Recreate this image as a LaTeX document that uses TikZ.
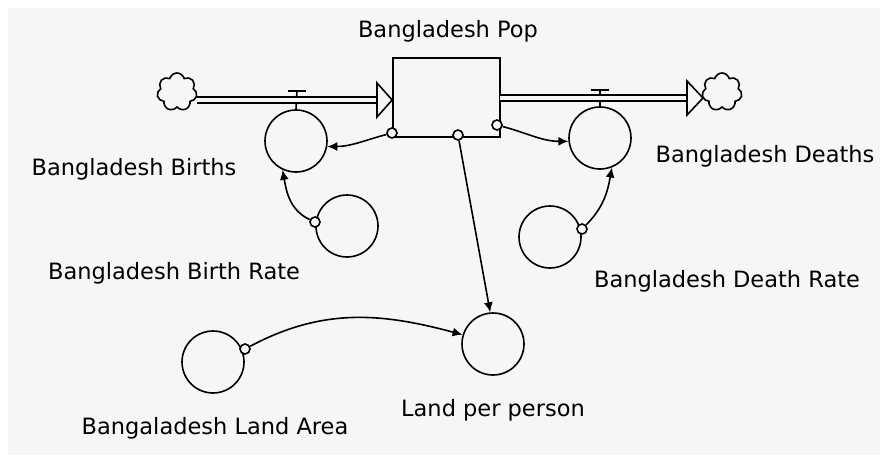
\documentclass[tikz,border=0pt]{standalone}
\usepackage{fontspec}
\setmainfont{DejaVu Sans}
\usetikzlibrary{arrows.meta,shapes.symbols}
\definecolor{bgc}{RGB}{246,246,246}
\begin{document}
\begin{tikzpicture}[x=1pt,y=-1pt,line width=1.6pt,font=\fontsize{22.5}{26}\selectfont]
\tikzstyle{aux}=[draw,shape=circle,minimum size=62pt,inner sep=0pt]
\tikzstyle{src}=[draw,shape=circle,minimum size=10pt,inner sep=0pt,fill=bgc]
\tikzstyle{sink}=[draw,cloud,cloud puffs=7,aspect=1,minimum width=40pt,minimum height=38pt,inner sep=0pt]
\tikzstyle{link}=[-{Latex[length=10pt,width=9pt]}]
\tikzstyle{pipe}=[double=bgc,double distance=4.5pt,line width=1.6pt]
\fill[white] (0,0) rectangle (884,460);
\fill[bgc] (8,8) rectangle (880,455);
\useasboundingbox (0,0) rectangle (884,460);

\path (446.5,97.5) node[draw,minimum width=107pt,minimum height=79pt,inner sep=0pt](pop){};
\path (448,31) node(lpop){Bangladesh Pop};
\path (177,92) node[sink](c1){} (722,92) node[sink](c2){};
\path (296,141) node[aux](b1){} (347,226) node[aux](br){};
\path (600,138) node[aux](d1){} (550,237) node[aux](dr){};
\path (493,344) node[aux](lp){} (213,362) node[aux](la){};

\draw[] (288,91) -- (306,91);
\draw[] (297,91) -- (b1.north);
\draw[] (591,90) -- (609,90);
\draw[] (600,90) -- (d1.north);

\coordinate (p1) at (197,100);
\coordinate (t1) at (377,100);
\draw[pipe] (p1) -- (t1);
\draw[fill=bgc] (377,83) -- (pop.west |- t1) -- (377,117) -- cycle;
\coordinate (p2) at (500,98);
\coordinate (t2) at (687,98);
\draw[pipe] (p2) -- (t2);
\draw[fill=bgc] (687,81) -- (703,98) -- (687,115) -- cycle;

\path (392,133) node[src](o1){} (458,135) node[src](o5){} (497,125) node[src](o3){};
\path (315,222) node[src](o2){} (582,229) node[src](o4){} (245,349) node[src](o6){};

\draw[link] (o1) to[out=195,in=0] (b1.-10);
\draw[link] (o2) to[out=155,in=-80] (b1.-115);
\draw[link] (o3) to[out=-15,in=180] (d1.186);
\draw[link] (o4) to[out=45,in=-100] (d1.-68);
\draw[link] (o5) -- (lp.95);
\draw[link] (o6) to[out=28,in=165] (lp.163);

\path (134,169) node(lb1){Bangladesh Births};
\path (174,273) node(lbr){Bangladesh Birth Rate};
\path (765,156) node(ld1){Bangladesh Deaths};
\path (727,281) node(ldr){Bangladesh Death Rate};
\path (493,410) node(llp){Land per person};
\path (215,428) node(lla){Bangaladesh Land Area};
\end{tikzpicture}
\end{document}
